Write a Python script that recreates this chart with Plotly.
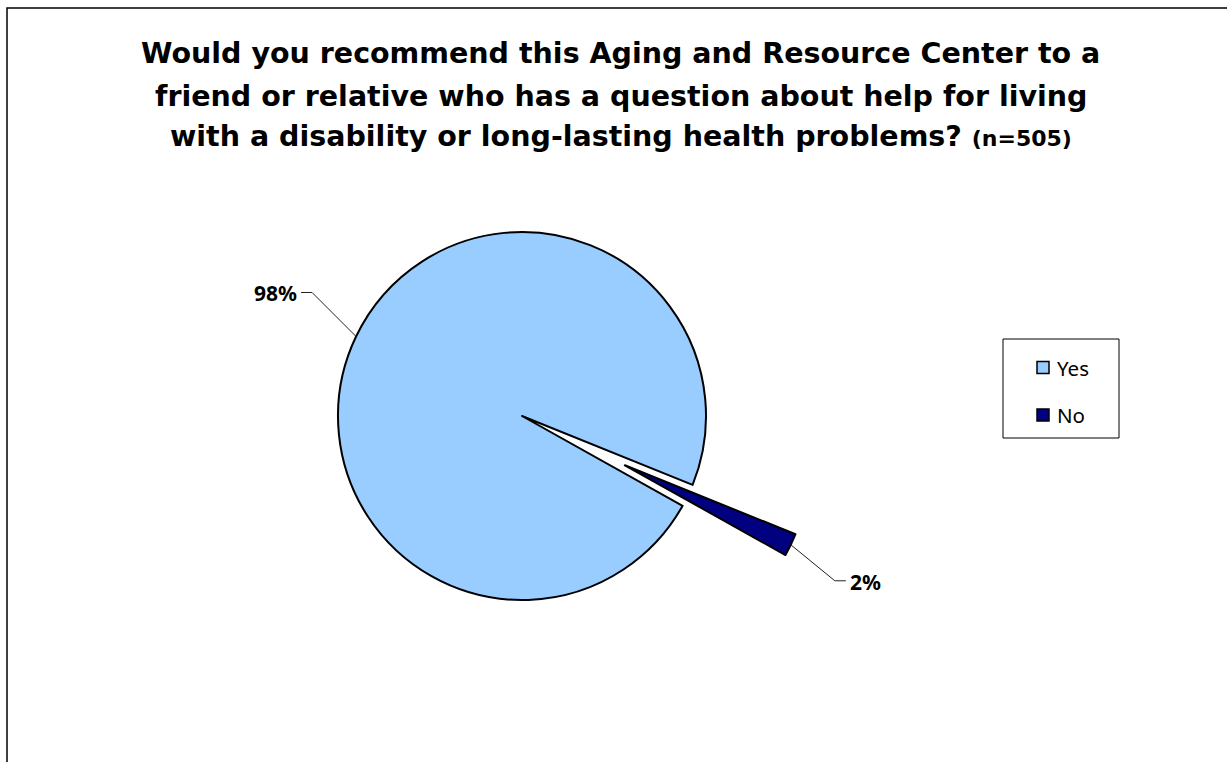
import math
import plotly.graph_objects as go

# ---- data -------------------------------------------------------------
labels = ["Yes", "No"]
values = [98, 2]
colors = ["#99CCFF", "#000080"]
pulls = [0, 0.62]

title_lines = [
    "Would you recommend this Aging and Resource Center to a",
    "friend or relative who has a question about help for living",
    "with a disability or long-lasting health problems?",
]
sample_note = "(n=505)"

# ---- canvas / geometry (pixels) --------------------------------------
W, H = 1227, 762
CX, CY, R = 522, 416, 184          # pie centre and radius
ROTATION = 119.2                    # start angle of the first slice
LEADER_OFFSETS = [(-44, -44), (44, 36)]
LEADER_TAIL = 11


def px(x):
    return x / W


def py(y):
    return 1 - y / H


span = R * (1 + max(pulls))
domain_x = [px(CX - span), px(CX + span)]
domain_y = [py(CY + span), py(CY - span)]

fig = go.Figure(
    go.Pie(
        labels=labels,
        values=values,
        marker=dict(colors=colors, line=dict(color="black", width=2)),
        pull=pulls,
        sort=False,
        direction="clockwise",
        rotation=ROTATION,
        textinfo="none",
        hoverinfo="label+percent",
        showlegend=False,
        domain=dict(x=domain_x, y=domain_y),
    )
)

shapes = []
annotations = []

# ---- percentage labels with elbow leader lines ------------------------
total = sum(values)
start = ROTATION
for i, v in enumerate(values):
    sweep = v / total * 360
    mid = math.radians(start + sweep / 2)
    start += sweep
    dist = R * (1 + pulls[i])
    ex = CX + dist * math.sin(mid)
    ey = CY - dist * math.cos(mid)
    dx, dy = LEADER_OFFSETS[i]
    bx, by = ex + dx, ey + dy
    side = 1 if dx > 0 else -1
    tx = bx + side * LEADER_TAIL
    shapes.append(dict(
        type="path", xref="paper", yref="paper",
        path=f"M {px(ex)} {py(ey)} L {px(bx)} {py(by)} L {px(tx)} {py(by)}",
        line=dict(color="#222222", width=1),
    ))
    annotations.append(dict(
        x=px(tx + side * 2), y=py(by + 1), xref="paper", yref="paper",
        text=f"{round(v / total * 100)}%", showarrow=False,
        xanchor="left" if side > 0 else "right", yanchor="middle",
        font=dict(family="Noto Sans", size=21, color="black", weight="bold"),
    ))

# ---- legend ------------------------------------------------------------
shapes.append(dict(type="rect", xref="paper", yref="paper",
                   x0=px(1003), x1=px(1119), y0=py(339), y1=py(438),
                   line=dict(color="black", width=1), fillcolor="white"))
legend_rows = [367.5, 415]
for lab, col, yc in zip(labels, colors, legend_rows):
    shapes.append(dict(type="rect", xref="paper", yref="paper",
                       x0=px(1037), x1=px(1049), y0=py(yc + 6), y1=py(yc - 6),
                       line=dict(color="black", width=1.5), fillcolor=col))
    annotations.append(dict(
        x=px(1055), y=py(yc), xref="paper", yref="paper", text=lab,
        showarrow=False, xanchor="left", yanchor="middle",
        font=dict(family="Noto Sans", size=20.5, color="black"),
    ))

# ---- title -------------------------------------------------------------
title_rows = [54, 96, 137]
for k, (line, yc) in enumerate(zip(title_lines, title_rows)):
    text = line
    if k == len(title_lines) - 1:
        text += f" <span style='font-size:22px'>{sample_note}</span>"
    annotations.append(dict(
        x=px(621), y=py(yc), xref="paper", yref="paper", text=text,
        showarrow=False, xanchor="center", yanchor="middle",
        font=dict(family="DejaVu Sans", size=28.5, color="black", weight="bold"),
    ))

# ---- outer frame -------------------------------------------------------
shapes.append(dict(type="rect", xref="paper", yref="paper",
                   x0=px(7), x1=px(W + 20), y0=py(H + 20), y1=py(8),
                   line=dict(color="black", width=1.5), layer="below"))

fig.update_layout(
    width=W, height=H, autosize=False,
    margin=dict(l=0, r=0, t=0, b=0),
    paper_bgcolor="white", plot_bgcolor="white",
    shapes=shapes, annotations=annotations,
)

fig.write_html("out.html")
